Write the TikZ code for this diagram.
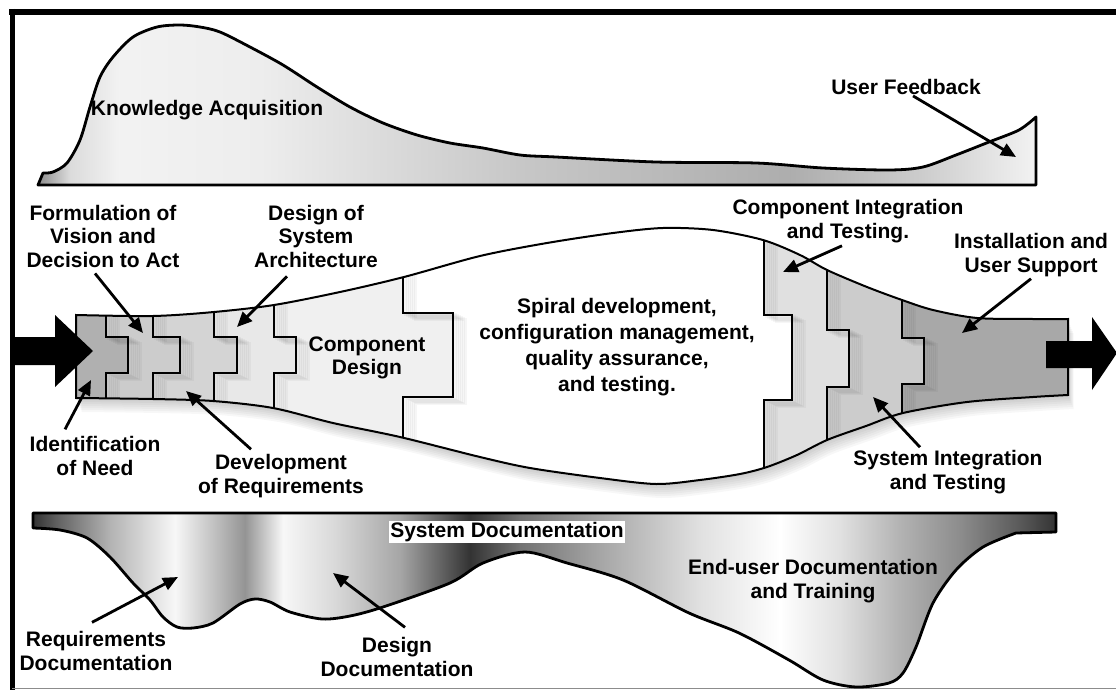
\documentclass[tikz,border=0pt]{standalone}
\usepackage{fontspec}
\setmainfont{Liberation Sans}
\usepackage{tikz}
\usetikzlibrary{arrows.meta, positioning}
\pgfdeclarehorizontalshading{knowshade}{100bp}{color(0bp)=(black!45); color(25bp)=(black!45); color(26.6bp)=(black!14); color(29.1bp)=(black!5); color(36.1bp)=(black!7); color(49.15bp)=(black!22); color(62.7bp)=(black!32); color(69.2bp)=(black!20); color(75bp)=(black!5); color(100bp)=(black!5)}
\pgfdeclarehorizontalshading{docshade}{100bp}{color(0bp)=(black!80); color(25bp)=(black!80); color(26.32bp)=(black!60); color(28.76bp)=(black!30); color(31.94bp)=(black!3); color(33.9bp)=(black!25); color(35.36bp)=(black!42); color(37.22bp)=(black!3); color(39.76bp)=(black!15); color(42.94bp)=(black!35); color(46.36bp)=(black!80); color(48.8bp)=(black!55); color(52.72bp)=(black!35); color(57.6bp)=(black!12); color(61.51bp)=(black!0); color(64.45bp)=(black!12); color(67.38bp)=(black!30); color(70.31bp)=(black!45); color(73.25bp)=(black!65); color(75bp)=(black!80); color(100bp)=(black!80)}
\tikzset{lbl/.style={font=\bfseries\fontsize{21}{23.5}\selectfont, align=center, inner sep=1pt},
    pointer/.style={line width=2.8pt, -{Triangle[length=15pt,width=13pt]}},
    seam/.style={line width=1.6pt}}
\newcommand\puzzleseams{%
    \draw(106,200)--(106,337)--(128,337)--(128,373)--(106,373)--(106,500);
    \draw(153,200)--(153,337)--(180,337)--(180,373)--(153,373)--(153,500);
    \draw(214,200)--(214,337)--(237,337)--(237,373)--(214,373)--(214,500);
    \draw(274,200)--(274,337)--(296,337)--(296,373)--(274,373)--(274,500);
    \draw(403,200)--(403,313)--(453,313)--(453,397)--(403,397)--(403,500);
    \draw(764,200)--(764,315)--(792,315)--(792,400)--(764,400)--(764,500);
    \draw(827,200)--(827,330)--(849,330)--(849,387)--(827,387)--(827,500);
    \draw(902,200)--(902,338)--(924,338)--(924,384)--(902,384)--(902,500);}

\begin{document}
\begin{tikzpicture}[x=1pt,y=-1pt]
                 \useasboundingbox(0,0) rectangle (1116,690);
                 % frame
                 \draw[line width=6pt](9,12)--(1116,12);
                 \draw[line width=5pt](12,9)--(12,690);
                 \draw[black!45,line width=1.5pt](12,688.5)--(1116,688.5);
                 % knowledge curve
                 \shadedraw[shading=knowshade,line width=2.8pt,line join=round](38,185)--plot[smooth] coordinates{(43,173) (53,172) (67,163) (80,140) (90,107) (100,77) (113,57) (133,37) (157,27) (180,25) (200,27) (220,32) (250,47) (283,65) (317,87) (350,107) (383,123) (417,135) (450,143) (483,148) (520,155) (556,157) (656,162) (756,163) (823,168) (889,170) (923,167) (956,155) (989,142) (1019,130) (1036,117)}--(1036,185)--cycle;
                 % middle body
                 \path[save path=\midpath] plot[smooth] coordinates{(76,315) (153,316) (214,312) (274,305) (340,292) (404,277) (480,256) (547,243) (613,233) (663,228) (713,230) (763,240) (800,255) (827,270) (867,287) (902,300) (933,310) (977,318) (1033,319) (1068,319)}--plot[smooth] coordinates{(1068,395) (1033,397) (967,402) (903,413) (866,426) (827,440) (797,455) (767,467) (740,474) (700,480) (656,484) (600,478) (530,468) (480,457) (400,437) (333,423) (273,408) (213,401) (153,399) (76,398)}--cycle;
                 \foreach \s in {2,4,...,14}{
                     \begin{scope}[transform canvas={shift={(0.4*\s,\s)}}]
                         \fill[black,opacity=0.03,use path=\midpath];
                     \end{scope}}
                 \fill[white,use path=\midpath];
                 \begin{scope}
                     \clip[use path=\midpath];
                     \fill[black!6](60,200)--(403,200)--(403,313)--(453,313)--(453,397)--(403,397)--(403,500)--(60,500)--cycle;
                     \fill[black!9](60,200)--(274,200)--(274,337)--(296,337)--(296,373)--(274,373)--(274,500)--(60,500)--cycle;
                     \fill[black!17](60,200)--(214,200)--(214,337)--(237,337)--(237,373)--(214,373)--(214,500)--(60,500)--cycle;
                     \fill[black!20](60,200)--(153,200)--(153,337)--(180,337)--(180,373)--(153,373)--(153,500)--(60,500)--cycle;
                     \fill[black!31](60,200)--(106,200)--(106,337)--(128,337)--(128,373)--(106,373)--(106,500)--(60,500)--cycle;
                     \fill[black!12](1100,200)--(764,200)--(764,315)--(792,315)--(792,400)--(764,400)--(764,500)--(1100,500)--cycle;
                     \fill[black!20](1100,200)--(827,200)--(827,330)--(849,330)--(849,387)--(827,387)--(827,500)--(1100,500)--cycle;
                     \fill[black!34](1100,200)--(902,200)--(902,338)--(924,338)--(924,384)--(902,384)--(902,500)--(1100,500)--cycle;
                     \foreach \s in {2,4,...,12}{
                         \begin{scope}[shift={(\s,0.5*\s)},black,opacity=0.035,line width=3pt]
                             \puzzleseams
                         \end{scope}}
                     \begin{scope}[seam]
                         \puzzleseams
                     \end{scope}
                 \end{scope}
                 \draw[line width=2pt,use path=\midpath];
                 % in and out arrows
                 \fill(12,337)--(55,337)--(55,315)--(93,351)--(55,387)--(55,365)--(12,365)--cycle;
                 \fill(1046,341)--(1092,341)--(1092,317)--(1117,353)--(1092,390)--(1092,368)--(1046,368)--cycle;
                 % documentation curve
                 \shadedraw[shading=docshade,line width=2.8pt,line join=round](33,528)--(33,513)--(1056,513)--(1056,532)--plot[smooth] coordinates{(1016,533) (983,547) (956,570) (933,603) (916,647) (903,673) (889,683) (856,687) (823,680) (789,660) (739,633) (689,613) (623,580) (567,563) (525,552) (483,563) (450,583) (383,607) (350,616) (322,619) (290,612) (270,602) (255,599) (240,604) (213,623) (193,628) (177,627) (163,617) (150,600) (133,583) (110,557) (87,538) (60,530) (33,528)}--cycle;
                 % labels
                 \node[lbl](know)at(207,110){Knowledge Acquisition};
                 \node[lbl](feedback)at(906,87){User Feedback};
                 \node[lbl](vision)at(103,236){Formulation of\\Vision and\\Decision to Act};
                 \node[lbl](arch)at(316,236){Design of\\System\\Architecture};
                 \node[lbl](compdes)at(367,358){Component\\Design};
                 \node[lbl,font=\bfseries\fontsize{21}{26}\selectfont](spiral)at(617,347){Spiral development,\\configuration management,\\quality assurance,\\and testing.};
                 \node[lbl](compint)at(848,221){Component Integration\\and Testing.};
                 \node[lbl](install)at(1031,255){Installation and\\User Support};
                 \node[lbl](need)at(95,456){Identification\\of Need};
                 \node[lbl](req)at(281,476){Development\\of Requirements};
                 \node[lbl](sysint)at(948,472){System Integration\\and Testing};
                 \node[lbl,fill=white](sysdoc)at(507,532){System Documentation};
                 \node[lbl](enduser)at(813,581){End-user Documentation\\and Training};
                 \node[lbl](reqdoc)at(96,651){Requirements\\Documentation};
                 \node[lbl](desdoc)at(397,657){Design\\Documentation};
                 % pointers
                 \coordinate(feedback tip)at(1016,157);
                 \coordinate(vision tip)at(143,333);
                 \coordinate(arch tip)at(237,327);
                 \coordinate(compint tip)at(783,272);
                 \coordinate(install tip)at(962,333);
                 \coordinate(need tip)at(91,380);
                 \coordinate(req tip)at(186,391);
                 \coordinate(sysint tip)at(873,397);
                 \coordinate(reqdoc tip)at(178,577);
                 \coordinate(desdoc tip)at(333,573);
                 \draw[pointer]([xshift=7pt]feedback.south)--(feedback tip);
                 \draw[pointer]([xshift=-8pt,yshift=-5pt]vision.south)--(vision tip);
                 \draw[pointer]([xshift=-29pt,yshift=-8pt]arch.south)--(arch tip);
                 \draw[pointer]([xshift=-6pt,yshift=-2pt]compint.south)--(compint tip);
                 \draw[pointer]([yshift=-1pt]install.south)--(install tip);
                 \draw[pointer]([xshift=-30pt,yshift=6pt]need.north)--(need tip);
                 \draw[pointer]([xshift=-30pt,yshift=4pt]req.north)--(req tip);
                 \draw[pointer]([xshift=-28pt,yshift=2pt]sysint.north)--(sysint tip);
                 \draw[pointer]([xshift=-4pt,yshift=8pt]reqdoc.north)--(reqdoc tip);
                 \draw[pointer]([xshift=8pt,yshift=9pt]desdoc.north)--(desdoc tip);
             \end{tikzpicture}
\end{document}
